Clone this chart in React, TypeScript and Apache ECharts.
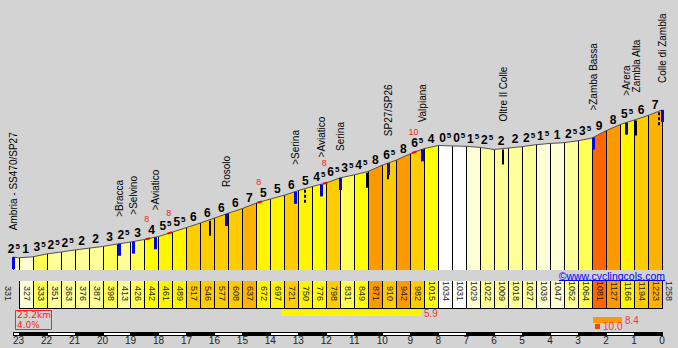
import React, { useEffect, useRef } from "react";
import * as echarts from "echarts";

// ---------- data ----------
const START_KM = 23.2;
const START_ELEVATION = 331;
const FIRST_MARK_KM = 23;
const CELL_KM = 0.5;
// elevation (m) at km-to-go 23.0, 22.5, ... 0.0
const elevations = [
  327, 333, 351, 363, 376, 387, 398, 413, 426, 442, 461, 489, 517, 546, 577, 608, 637, 672, 697, 721,
  750, 776, 798, 831, 849, 871, 910, 942, 982, 1015, 1034, 1031, 1029, 1022, 1009, 1018, 1027, 1039, 1047, 1052,
  1064, 1081, 1127, 1166, 1194, 1223, 1258,
];
// gradient (%) of each segment: first is 23.2 -> 23.0, then every 0.5 km
const gradients = [
  2.5, 1, 3.5, 2.5, 2.5, 2, 2, 3, 2.5, 3, 4, 5.5, 5.5, 6, 6, 6, 6, 7, 5, 5, 6, 5, 4.5, 6.5, 3.5, 4.5, 8, 6.5, 8, 6.5,
  4, 0.5, 0.5, 1.5, 2.5, 2, 2, 2.5, 1.5, 1, 2.5, 3.5, 9, 8, 5.5, 6, 7,
];
const placeNames = [
  "Ambria - SS470/SP27", ">Bracca", ">Selvino", ">Aviatico", "", "Rosolo", ">Serina", "", ">Aviatico", "Serina",
  "", "", "SP27/SP26", "Valpiana", "Oltre Il Colle", ">Zamba Bassa", ">Arera", "Zambla Alta", "", "Colle di Zambla",
];
const placeKm = [23.2, 19.42, 18.92, 18.13, 16.17, 15.59, 13.13, 12.77, 12.2, 11.52, 10.55, 9.8, 9.8, 8.58, 5.69, 2.47, 1.29, 0.93, 0.11, 0];
const placeMarker = [
  "blue", "blue", "blue", "blue", "black", "blue", "blue", "dashed", "blue", "blue",
  "black", "black", "blue", "blue", "black", "blue", "blue", "black", "dashed", "blue",
];
const steepKm = [18.38, 17.6, 14.38, 12.04, 8.85];
const steepGrade = [8, 8, 8, 8, 10];
const bestFrom = [13.62, 2.47, 2.4];
const bestTo = [8.62, 1.43, 2.2];
const bestGrade = [5.9, 8.4, 10.0];

// ---------- styles ----------
const BG = "#D3D3D3";
const Y_MIN = 250;
const Y_MAX = 1900;
const gradeColors = ["#FFFFFF", "#FFFFD6", "#FFFF99", "#FFFF55", "#FFFF00", "#FFF500", "#FFCC00", "#FFB300", "#FF9900", "#FF6600", "#FF4400"];
const gradeColor = (g: number) => gradeColors[Math.min(gradeColors.length - 1, Math.floor(Math.abs(g) + 1e-9))];
const FONT = '"Liberation Sans", Arial, sans-serif';

const profilePoints: number[][] = [[START_KM, START_ELEVATION], ...elevations.map((e, i) => [FIRST_MARK_KM - i * CELL_KM, e])];

function elevAt(km: number) {
  for (let i = 0; i < profilePoints.length - 1; i++) {
    const a = profilePoints[i], b = profilePoints[i + 1];
    if (km <= a[0] && km >= b[0]) {
      const t = (a[0] - km) / (a[0] - b[0]);
      return a[1] + t * (b[1] - a[1]);
    }
  }
  return km > START_KM ? START_ELEVATION : elevations[elevations.length - 1];
}

function buildOption() {
  const cellData = gradients.map((g, j) => [profilePoints[j][0], profilePoints[j + 1][0], profilePoints[j][1], profilePoints[j + 1][1], g]);
  const lastCell = cellData.length - 1;

  const renderCell = (params: any, api: any) => {
    const j = params.dataIndex;
    const kmA = api.value(0), kmB = api.value(1), eA = api.value(2), eB = api.value(3), g = api.value(4);
    const pA = api.coord([kmA, eA]);
    const pB = api.coord([kmB, eB]);
    const base = api.coord([kmA, Y_MIN])[1];
    const xA = Math.round(pA[0]);
    const xB = Math.round(pB[0]);
    const color = gradeColor(g);
    const children: any[] = [];
    children.push({ type: "polygon", shape: { points: [[xA, pA[1]], [xB, pB[1]], [xB, base], [xA, base]] }, style: { fill: color } });
    children.push({ type: "line", shape: { x1: xA + 0.5, y1: pA[1], x2: xA + 0.5, y2: base }, style: { stroke: "#000", lineWidth: 1 } });
    children.push({ type: "line", shape: { x1: xB + 0.5, y1: pB[1], x2: xB + 0.5, y2: base }, style: { stroke: "#000", lineWidth: 1 } });
    // gradient label
    const half = Math.round((g % 1) * 10);
    const txt = half ? `{a|${Math.floor(g)}}{s|${half}}` : `{a|${g}}`;
    children.push({
      type: "text",
      x: (pA[0] + pB[0]) / 2 - (j === 0 ? 2 : 0),
      y: (pA[1] + pB[1]) / 2 - 1.5,
      style: {
        text: txt,
        align: "center",
        verticalAlign: "bottom",
        fill: "#000",
        rich: {
          a: { font: `bold 12px ${FONT}`, lineHeight: 13, fill: "#000" },
          s: { font: `bold 8px ${FONT}`, lineHeight: 8, verticalAlign: "top", padding: [0, 0, 0, 1], fill: "#000" },
        },
      },
    });
    // elevation strip
    const sTop = base + 11, sBot = base + 39;
    const elevLabel = (x: number, val: number) => ({
      type: "text",
      x,
      y: base + 31,
      rotation: -Math.PI / 2,
      style: { text: String(val), font: `9px ${FONT}`, fill: "#222", align: "right", verticalAlign: "middle" },
    });
    if (j > 0) {
      children.push({ type: "rect", shape: { x: xA, y: sTop, width: xB - xA, height: sBot - sTop }, style: { fill: color } });
      children.push({ type: "line", shape: { x1: xA + 0.5, y1: sTop, x2: xA + 0.5, y2: sBot }, style: { stroke: "#000", lineWidth: 1 } });
      children.push({ type: "line", shape: { x1: xB + 0.5, y1: sTop, x2: xB + 0.5, y2: sBot }, style: { stroke: "#000", lineWidth: 1 } });
      children.push({ type: "line", shape: { x1: xA, y1: sBot - 0.5, x2: xB + 1, y2: sBot - 0.5 }, style: { stroke: "#000", lineWidth: 1 } });
      children.push(elevLabel((xA + xB) / 2 + 1, eA));
    } else {
      children.push(elevLabel(xA - 5.5, eA));
    }
    if (j === lastCell) children.push(elevLabel(xB + 6.5, eB));
    return { type: "group", children };
  };

  const placeData = placeKm.map((km, i) => [km, elevAt(km), i]);
  const renderPlace = (params: any, api: any) => {
    const i = params.dataIndex;
    const p = api.coord([api.value(0), api.value(1)]);
    const x = Math.round(p[0]);
    const y = p[1];
    const kind = placeMarker[i];
    const children: any[] = [];
    if (kind === "blue") children.push({ type: "rect", shape: { x: x - 1, y, width: 3, height: 12 }, style: { fill: "#0000FF" } });
    else if (kind === "black") children.push({ type: "rect", shape: { x: x - 1, y: y + 1, width: 2, height: 15 }, style: { fill: "#000" } });
    else children.push({ type: "line", shape: { x1: x, y1: y + 1, x2: x, y2: y + 16 }, style: { stroke: "#000", lineWidth: 2, lineDash: [3, 2] } });
    if (placeNames[i]) {
      children.push({
        type: "text",
        x: x + 0.5,
        y: y - 27,
        rotation: Math.PI / 2,
        style: { text: placeNames[i], font: `10px ${FONT}`, fill: "#000", align: "left", verticalAlign: "middle" },
      });
    }
    return { type: "group", children };
  };

  const steepData = steepKm.map((km, i) => [km, elevAt(km), steepGrade[i]]);
  const renderSteep = (params: any, api: any) => {
    const km = api.value(0);
    const p1 = api.coord([km + 0.08, elevAt(km + 0.08)]);
    const p2 = api.coord([km - 0.08, elevAt(km - 0.08)]);
    const pc = api.coord([km, api.value(1)]);
    return {
      type: "group",
      children: [
        { type: "line", shape: { x1: p1[0], y1: p1[1], x2: p2[0], y2: p2[1] }, style: { stroke: "#FF0000", lineWidth: 2 } },
        {
          type: "text",
          x: pc[0] - 1,
          y: pc[1] - 20,
          style: { text: String(api.value(2)), font: `9px ${FONT}`, fill: "#FF2020", align: "center", verticalAlign: "middle" },
        },
      ],
    };
  };

  const bestData = bestFrom.map((f, i) => [f, bestTo[i], bestGrade[i]]);
  const renderBest = (params: any, api: any) => {
    const row = params.dataIndex;
    const a = api.coord([api.value(0), Y_MIN]);
    const b = api.coord([api.value(1), Y_MIN]);
    const base = a[1];
    const x1 = Math.round(a[0]), x2 = Math.round(b[0]);
    const top = base + 40 + row * 7;
    const h = row === 2 ? 5 : 6;
    return {
      type: "group",
      children: [
        { type: "rect", shape: { x: x1, y: top, width: x2 - x1, height: h }, style: { fill: gradeColor(api.value(2)) } },
        {
          type: "text",
          x: x2 + 3,
          y: top + h / 2,
          style: { text: Number(api.value(2)).toFixed(1), font: `10px ${FONT}`, fill: "#FF3030", align: "left", verticalAlign: "middle" },
        },
      ],
    };
  };

  const kmBounds = [START_KM, ...Array.from({ length: 24 }, (_, i) => 23 - i)];
  const kmBarData = kmBounds.slice(0, -1).map((k, i) => [k, kmBounds[i + 1]]);
  const renderKmBar = (params: any, api: any) => {
    const from = api.value(0);
    const a = api.coord([from, Y_MIN]);
    const b = api.coord([api.value(1), Y_MIN]);
    const base = a[1];
    const x1 = Math.round(a[0]), x2 = Math.round(b[0]);
    const children: any[] = [{ type: "rect", shape: { x: x1, y: base + 62, width: x2 - x1 + 1, height: 4 }, style: { fill: "#000" } }];
    if (Math.ceil(from) % 2 === 0) {
      children.push({ type: "rect", shape: { x: x1 + 1, y: base + 63, width: x2 - x1 - 1, height: 2 }, style: { fill: "#FFF" } });
    }
    return { type: "group", children };
  };

  const totalKm = START_KM.toFixed(1);
  const avg = (((elevations[elevations.length - 1] - START_ELEVATION) / (START_KM * 1000)) * 100).toFixed(1);
  const BOX_FONT = '9px "DejaVu Sans", sans-serif';

  return {
    animation: false,
    backgroundColor: BG,
    grid: { left: 13, right: 16, top: 8, bottom: 78, containLabel: false, outerBoundsMode: "none" },
    xAxis: {
      type: "value",
      min: 0,
      max: START_KM,
      interval: 1,
      inverse: true,
      axisLine: { show: false },
      axisTick: { show: false },
      splitLine: { show: false },
      axisLabel: { margin: 65, showMaxLabel: false, fontFamily: "Liberation Sans", fontSize: 10, color: "#222" },
    },
    yAxis: { type: "value", min: Y_MIN, max: Y_MAX, show: false },
    graphic: [
      { type: "rect", shape: { x: 15.5, y: 310.5, width: 36, height: 19 }, style: { stroke: "#FF2020", fill: "transparent", lineWidth: 1 } },
      { type: "text", x: 17, y: 315.2, style: { text: `${totalKm}km`, font: BOX_FONT, fill: "#FF2020", align: "left", verticalAlign: "middle" } },
      { type: "text", x: 17, y: 324.8, style: { text: `${avg}%`, font: BOX_FONT, fill: "#FF2020", align: "left", verticalAlign: "middle" } },
      { type: "text", x: 665, y: 275.5, style: { text: "©www.cyclingcols.com", font: `10.5px ${FONT}`, fill: "#0000FF", align: "right", verticalAlign: "middle" } },
      { type: "line", shape: { x1: 559, y1: 280.5, x2: 665, y2: 280.5 }, style: { stroke: "#0000FF", lineWidth: 1 } },
    ],
    series: [
      { type: "custom", silent: true, clip: false, z: 2, data: cellData, renderItem: renderCell },
      {
        type: "line",
        silent: true,
        z: 3,
        data: profilePoints,
        symbol: "none",
        lineStyle: { color: "#505050", width: 1 },
      },
      { type: "custom", silent: true, clip: false, z: 4, data: steepData, renderItem: renderSteep },
      { type: "custom", silent: true, clip: false, z: 5, data: placeData, renderItem: renderPlace },
      { type: "custom", silent: true, clip: false, z: 5, data: bestData, renderItem: renderBest },
      { type: "custom", silent: true, clip: false, z: 5, data: kmBarData, renderItem: renderKmBar },
    ],
  };
}

export default function App() {
  const ref = useRef<HTMLDivElement>(null);
  useEffect(() => {
    const chart = echarts.init(ref.current!, null, { renderer: "svg" });
    chart.setOption(buildOption() as any);
    return () => chart.dispose();
  }, []);
  return <div ref={ref} style={{ position: "fixed", left: 0, top: 0, width: 678, height: 348, background: BG }} />;
}
